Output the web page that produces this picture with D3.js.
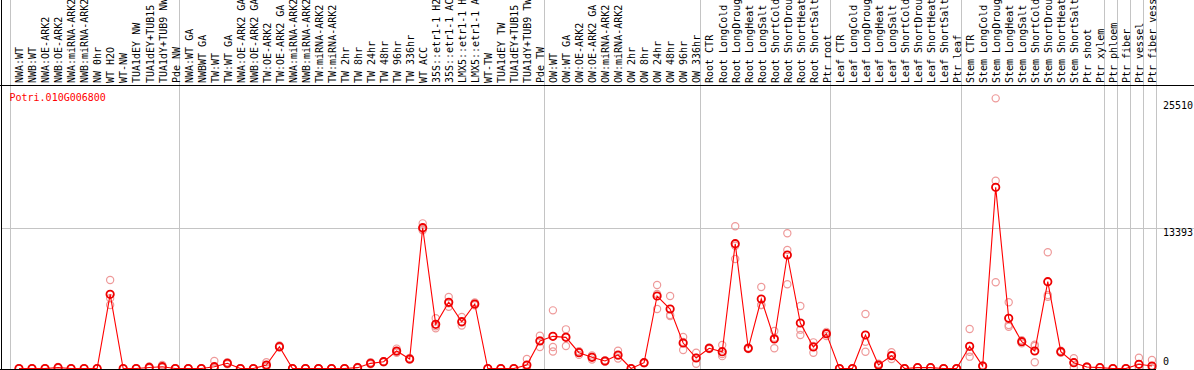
<!DOCTYPE html>
<html>
<head>
<meta charset="utf-8">
<script src="https://cdn.jsdelivr.net/npm/d3@7"></script>
<style>
html,body{margin:0;padding:0;background:#fff;}
svg{display:block;}
text{font-family:"DejaVu Sans Mono",monospace;font-size:10px;}
</style>
</head>
<body>
<svg id="chart" width="1194" height="370"></svg>
<script>
const geneId = "Potri.010G006800";

const samples = [
  "NWA:WT","NWB:WT","NWA:OE-ARK2","NWB:OE-ARK2","NWA:miRNA-ARK2","NWB:miRNA-ARK2","NW 0hr","WT H2O","WT-NW","TUA1dEY NW","TUA1dEY+TUB15 NW","TUA1dY+TUB9 NW","Pde NW",
  "NWA:WT GA","NWBWT GA","TW:WT","TW:WT GA","NWA:OE-ARK2 GA","NWB:OE-ARK2 GA","TW:OE-ARK2","TW:OE-ARK2 GA","NWA:miRNA-ARK2 GA","NWB:miRNA-ARK2 GA","TW:miRNA-ARK2","TW:miRNA-ARK2 GA","TW 2hr","TW 8hr","TW 24hr","TW 48hr","TW 96hr","TW 336hr","WT ACC","35S::etr1-1 H2O","35S::etr1-1 ACC","LMX5::etr1-1 H2O","LMX5::etr1-1 ACC","WT-TW","TUA1dEY TW","TUA1dEY+TUB15 TW","TUA1dY+TUB9 TW","Pde TW",
  "OW:WT","OW:WT GA","OW:OE-ARK2","OW:OE-ARK2 GA","OW:miRNA-ARK2","OW:miRNA-ARK2 GA","OW 2hr","OW 8hr","OW 24hr","OW 48hr","OW 96hr","OW 336hr",
  "Root CTR","Root LongCold","Root LongDrought","Root LongHeat","Root LongSalt","Root ShortCold","Root ShortDrought","Root ShortHeat","Root ShortSalt","Ptr root",
  "Leaf CTR","Leaf LongCold","Leaf LongDrought","Leaf LongHeat","Leaf LongSalt","Leaf ShortCold","Leaf ShortDrought","Leaf ShortHeat","Leaf ShortSalt","Ptr leaf",
  "Stem CTR","Stem LongCold","Stem LongDrought","Stem LongHeat","Stem LongSalt","Stem ShortCold","Stem ShortDrought","Stem ShortHeat","Stem ShortSalt","Ptr shoot","Ptr xylem",
  "Ptr phloem","Ptr fiber","Ptr vessel","Ptr fiber vessel"
];

// number of samples in each experiment group (separators drawn between)
const groupSizes = [13, 28, 12, 10, 10, 11, 1, 1, 1, 1];

// mean expression per sample
const meanValues = [
  0,0,0,80,0,0,0,7088,0,0,100,170,0,
  0,0,170,494,0,0,334,2087,0,0,0,0,0,80,494,650,1672,907,13452,4220,6324,4470,6162,0,0,0,334,2627,
  3073,2977,1512,1067,716,1290,0,555,6926,5684,2436,1003,
  1930,1605,11923,1930,6640,2818,10843,4347,2054,3327,
  0,0,3200,334,1223,0,80,80,0,0,
  2118,240,17310,4795,2560,1672,8294,1605,555,143,80,
  0,0,400,240
];

// individual replicates
const rep1 = [
  0,0,0,150,0,0,0,8455,0,0,200,330,0,
  0,0,720,600,0,0,600,2200,0,0,0,0,0,150,600,700,1900,1000,13866,4795,6830,4920,6300,0,0,0,907,3135,
  5556,3742,1650,1250,800,1700,0,600,7977,6926,3009,1509,
  2000,2245,13584,2000,7786,3582,12916,5970,2500,3500,
  0,0,5206,450,1547,0,120,120,0,0,
  3774,300,25810,6324,2700,2150,11100,1700,975,200,120,
  0,0,1032,812
];
const rep2 = [
  0,0,0,50,0,0,0,6706,0,0,80,120,0,
  0,0,0,400,0,0,250,2000,0,0,0,0,0,60,400,600,1500,850,13300,3840,5905,4100,6050,0,0,0,50,2054,
  2050,2150,1300,850,650,950,0,500,5684,5111,1767,460,
  1860,1180,10460,1850,6066,1930,11320,3710,1509,3100,
  0,0,2560,300,900,0,60,60,0,0,
  1605,200,17940,4155,2400,590,7020,1500,100,100,60,
  0,0,100,0
];
const rep3 = [
  0,0,0,40,0,0,0,6066,0,0,20,60,0,
  0,0,0,450,0,0,150,2060,0,0,0,0,0,30,480,650,1600,870,13200,4030,6240,4390,6130,0,0,0,50,2690,
  1620,3040,1590,1100,700,1220,0,565,7117,5015,2532,1040,
  1930,1390,11725,1940,6068,2942,8044,3200,2150,3380,
  0,0,1605,250,1220,0,60,60,0,0,
  1130,220,8235,3990,2580,2276,6860,1615,590,130,60,
  0,0,70,0
];

const yTicks = [0, 13393, 25510];

// ---------------------------------------------------------------
const W = 1194, H = 370;
const plotTop = 85, plotBottom = 369, plotLeft = 10, plotRight = 1156;
const svg = d3.select("#chart");

const x = d3.scaleBand().domain(samples).range([plotLeft, plotRight]);
const bw = x.bandwidth();
const cx = s => x(s) + bw * 0.69;
const y = d3.scaleLinear().domain([0, 25510]).range([368.5, 101.5]);

// clip for plot area
svg.append("defs").append("clipPath").attr("id", "plotclip")
  .append("rect").attr("x", 0).attr("y", plotTop + 1).attr("width", W).attr("height", plotBottom - plotTop - 1);

// horizontal grid line (middle tick)
const gridG = svg.append("g");
gridG.selectAll("line.h").data(yTicks.filter(v => v > 0 && v < 25510)).join("line")
  .attr("x1", 1).attr("x2", W)
  .attr("y1", d => Math.round(y(d)) + 0.5).attr("y2", d => Math.round(y(d)) + 0.5)
  .attr("stroke", "#c4c4c4").attr("stroke-width", 1);

// group separators
const sepIdx = [0];
groupSizes.reduce((acc, n) => { sepIdx.push(acc + n); return acc + n; }, 0);
const sepX = sepIdx.map(i => i < samples.length ? x(samples[i]) : x(samples[samples.length - 1]) + bw);
gridG.selectAll("line.v").data(sepX).join("line")
  .attr("x1", d => Math.round(d) + 0.5).attr("x2", d => Math.round(d) + 0.5)
  .attr("y1", 0).attr("y2", plotBottom)
  .attr("stroke", "#c4c4c4").attr("stroke-width", 1);

// frame lines
svg.append("line").attr("x1", 0).attr("x2", W).attr("y1", plotTop + 0.5).attr("y2", plotTop + 0.5)
  .attr("stroke", "#000").attr("stroke-width", 1);
svg.append("line").attr("x1", 1.5).attr("x2", 1.5).attr("y1", 0).attr("y2", H)
  .attr("stroke", "#000").attr("stroke-width", 1);
svg.append("line").attr("x1", 0).attr("x2", plotRight).attr("y1", plotBottom + 0.5).attr("y2", plotBottom + 0.5)
  .attr("stroke", "#000").attr("stroke-width", 1);

// sample labels
svg.append("g").selectAll("text").data(samples).join("text")
  .attr("transform", d => `translate(${cx(d) + 4.3},83) rotate(-90)`)
  .attr("fill", "#000")
  .text(d => d);

// title
svg.append("text").attr("x", 9.5).attr("y", 100.5).attr("fill", "#ff0000").text(geneId);

// y tick labels on right
svg.append("g").selectAll("text").data(yTicks).join("text")
  .attr("x", 1163)
  .attr("y", d => Math.min(y(d) + 7.5, y(0) - 3.5))
  .attr("fill", "#000")
  .text(d => d);

// data
const plot = svg.append("g").attr("clip-path", "url(#plotclip)");
const reps = [rep1, rep2, rep3];
reps.forEach(r => {
  plot.append("g").selectAll("circle").data(samples).join("circle")
    .attr("cx", d => cx(d))
    .attr("cy", (d, i) => y(r[i]))
    .attr("r", 3.6)
    .attr("fill", "none")
    .attr("stroke", "#ee9a9a")
    .attr("stroke-width", 1.2);
});

const line = d3.line().x(d => cx(d)).y((d, i) => y(meanValues[i]));
plot.append("path").datum(samples)
  .attr("d", line)
  .attr("fill", "none")
  .attr("stroke", "#ff0000")
  .attr("stroke-width", 1.1);

plot.append("g").selectAll("circle").data(samples).join("circle")
  .attr("cx", d => cx(d))
  .attr("cy", (d, i) => y(meanValues[i]))
  .attr("r", 3.7)
  .attr("fill", "none")
  .attr("stroke", "#ee0000")
  .attr("stroke-width", 1.8);
</script>
</body>
</html>
